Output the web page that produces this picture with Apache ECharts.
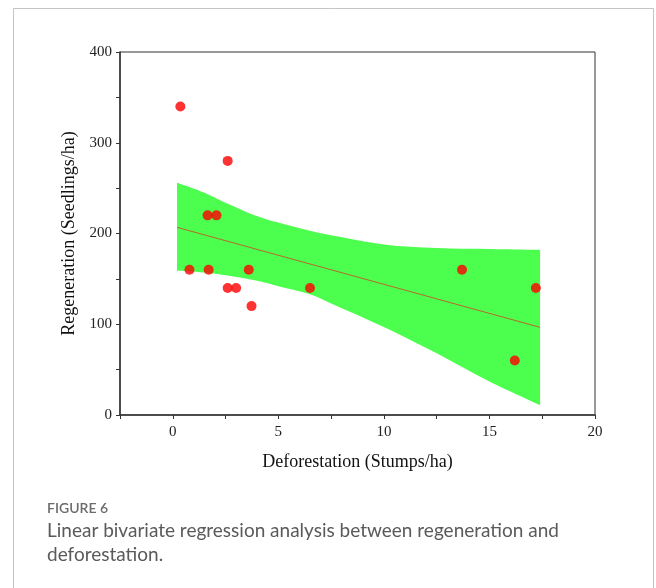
<!DOCTYPE html>
<html>
<head>
<meta charset="utf-8">
<script src="https://cdn.jsdelivr.net/npm/echarts@6/dist/echarts.min.js"></script>
<style>
html,body{margin:0;padding:0;background:#fff;}
#chart{width:656px;height:588px;}
</style>
</head>
<body>
<div id="chart"></div>
<script>
// Observed points
const deforestation = [0.36, 2.6, 1.65, 2.07, 0.79, 1.7, 3.6, 2.6, 3.0, 3.73, 6.5, 13.7, 17.2, 16.2];
const regeneration  = [340, 280, 220, 220, 160, 160, 160, 140, 140, 120, 140, 160, 140, 60];
// Fitted line endpoints
const fitX = [0.2, 17.4];
const fitY = [206.8, 96.6];
// Confidence band
const bandX     = [0.2, 1.5, 2.5, 4, 5, 6.5, 7.5, 10, 12.5, 15, 17.4];
const bandUpper = [256, 245, 234, 219, 212, 203, 198, 188, 184, 183, 182];
const bandLower = [159, 157, 154, 148, 142, 133, 123, 97, 68, 37, 11];
// Tick labels
const xTickLabels = [0, 5, 10, 15, 20];
const yTickLabels = [0, 100, 200, 300, 400];

const chart = echarts.init(document.getElementById('chart'));
const serif = '"Liberation Serif", "DejaVu Serif", serif';

chart.setOption({
  animation: false,
  backgroundColor: '#ffffff',
  grid: { left: 120, top: 52, right: 61, bottom: 173, show: true, borderColor: '#333', borderWidth: 1, backgroundColor: 'transparent' },
  xAxis: {
    type: 'value', min: -2.5, max: 20, interval: 2.5,
    name: 'Deforestation (Stumps/ha)', nameLocation: 'middle', nameGap: 38,
    nameTextStyle: { fontFamily: serif, fontSize: 18, color: '#111' },
    axisLine: { show: true, onZero: false, lineStyle: { color: '#333', width: 1.5 } },
    axisTick: { show: true, length: 4, lineStyle: { color: '#333' } },
    axisLabel: { fontFamily: serif, fontSize: 15, color: '#222', margin: 10,
      formatter: v => xTickLabels.includes(v) ? String(v) : '' },
    splitLine: { show: false }
  },
  yAxis: {
    type: 'value', min: 0, max: 400, interval: 50,
    name: 'Regeneration (Seedlings/ha)', nameLocation: 'middle', nameGap: 32,
    nameTextStyle: { fontFamily: serif, fontSize: 18, color: '#111' },
    axisLine: { show: true, onZero: false, lineStyle: { color: '#333', width: 1.5 } },
    axisTick: { show: true, length: 4, lineStyle: { color: '#333' } },
    axisLabel: { fontFamily: serif, fontSize: 15, color: '#222', margin: 8,
      formatter: v => yTickLabels.includes(v) ? String(v) : '' },
    splitLine: { show: false }
  },
  series: [
    {
      type: 'line', stack: 'band', smooth: 0.35, symbol: 'none',
      encode: { x: 1, y: 0 },
      lineStyle: { opacity: 0 },
      data: bandX.map((x, i) => [bandLower[i], x]),
      z: 1
    },
    {
      type: 'line', stack: 'band', smooth: 0.35, symbol: 'none',
      encode: { x: 1, y: 0 },
      lineStyle: { opacity: 0 },
      areaStyle: { color: '#4cfe4e', opacity: 1 },
      data: bandX.map((x, i) => [bandUpper[i] - bandLower[i], x]),
      z: 1
    },
    {
      type: 'line', symbol: 'none',
      lineStyle: { color: '#b8682c', width: 1 },
      data: fitX.map((x, i) => [x, fitY[i]]),
      z: 2
    },
    {
      type: 'scatter', symbol: 'circle', symbolSize: 10,
      itemStyle: { color: '#ff0000' },
      data: deforestation.map((x, i) => [x, regeneration[i]]),
      z: 3
    }
  ],
  graphic: [
    { type: 'rect', shape: { x: 13.5, y: 8.5, width: 640, height: 620 },
      style: { fill: 'none', stroke: '#c4c4c4', lineWidth: 1 }, silent: true },
    { type: 'text', left: 47, top: 501,
      style: { text: 'FIGURE 6', font: '600 14px Lato, "Open Sans", sans-serif', fill: '#6b6b6b' } },
    { type: 'text', left: 47, top: 521,
      style: { text: 'Linear bivariate regression analysis between regeneration and', font: '19px Lato, "Open Sans", sans-serif', fill: '#5a5a5a' } },
    { type: 'text', left: 47, top: 545,
      style: { text: 'deforestation.', font: '19px Lato, "Open Sans", sans-serif', fill: '#5a5a5a' } }
  ]
});
</script>
</body>
</html>
